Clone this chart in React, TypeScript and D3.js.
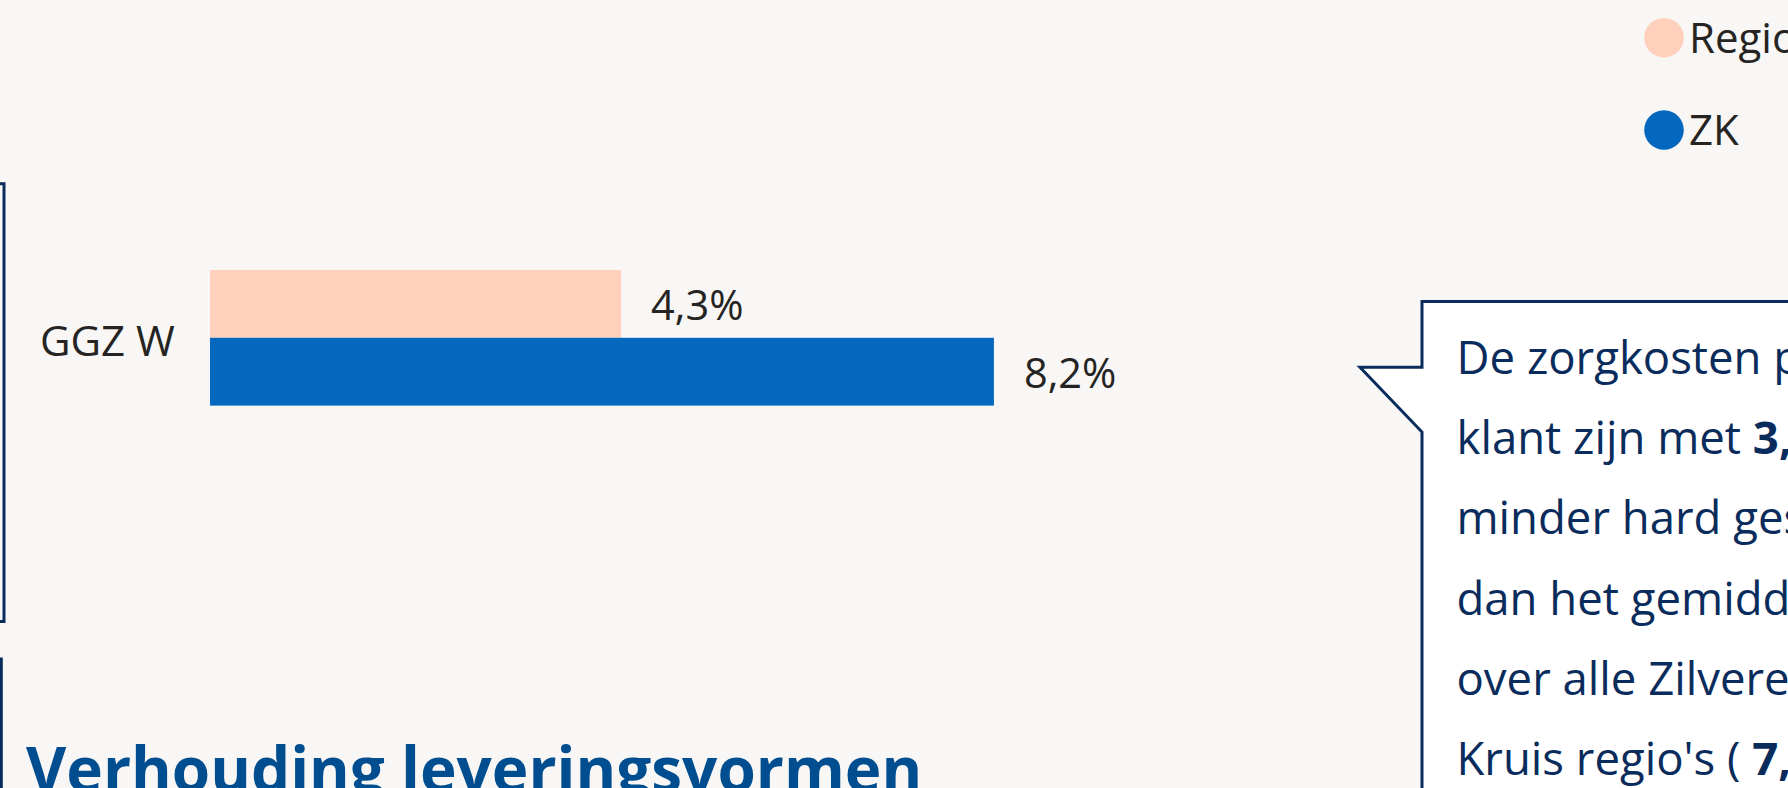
import React from "react";
import * as d3 from "d3";

const categories = ["GGZ W"];
const seriesNames = ["Regio", "ZK"];
const regioValues = [4.3];
const zkValues = [8.2];
const valueLabels = [["4,3%"], ["8,2%"]];
const calloutLines = [
  [{ t: "De zorgkosten per", b: false }],
  [{ t: "klant zijn met ", b: false }, { t: "3,9%", b: true }],
  [{ t: "minder hard gestegen", b: false }],
  [{ t: "dan het gemiddelde", b: false }],
  [{ t: "over alle Zilveren", b: false }],
  [{ t: "Kruis regio's ( ", b: false }, { t: "7,4%", b: true }, { t: " ).", b: false }],
];
const titleText = "Verhouding leveringsvormen";

const W = 1788;
const H = 788;
const BG = "#F8F7F5";
const NAVY = "#0A2C5C";
const PINK = "#FFD0BC";
const BLUE = "#0368BE";
const TEXT = "#252423";
const TITLE = "#004E8F";
const FONT = "'Open Sans', 'Noto Sans', sans-serif";

export default function App() {
  const series = [regioValues, zkValues];
  const colors = [PINK, BLUE];

  const x = d3.scaleLinear().domain([0, 10]).range([210, 1166]);
  const y0 = d3.scaleBand<string>().domain(categories).range([270, 405.6]).padding(0);
  const y1 = d3.scaleBand<string>().domain(seriesNames).range([0, y0.bandwidth()]).padding(0);

  const legendY = d3.scalePoint<string>().domain(seriesNames).range([37.7, 130]);

  const calloutPath = d3.path();
  calloutPath.moveTo(1422, 900);
  calloutPath.lineTo(1422, 432);
  calloutPath.lineTo(1360, 367.3);
  calloutPath.lineTo(1422, 367.3);
  calloutPath.lineTo(1422, 301.5);
  calloutPath.lineTo(1900, 301.5);
  calloutPath.lineTo(1900, 900);
  calloutPath.closePath();

  const lineY = d3.scaleLinear().domain([0, 5]).range([374, 775]);

  return (
    <svg
      width={W}
      height={H}
      viewBox={`0 0 ${W} ${H}`}
      style={{ position: "absolute", left: 0, top: 0, display: "block" }}
      fontFamily={FONT}
    >
      <rect x={0} y={0} width={W} height={H} fill={BG} />

      {/* left panel borders */}
      <rect x={-100} y={183.7} width={104} height={437.8} fill="none" stroke={NAVY} strokeWidth={3} />
      <rect x={-100} y={659} width={101.3} height={300} fill="none" stroke={NAVY} strokeWidth={3} />

      {/* legend */}
      {seriesNames.map((s, i) => (
        <g key={s}>
          <circle cx={1664} cy={legendY(s)} r={19.8} fill={colors[i]} />
          <text x={1689} y={(legendY(s) as number) + 15} fontSize={42} fill={TEXT}>
            {s}
          </text>
        </g>
      ))}

      {/* bars */}
      {categories.map((c, ci) => (
        <g key={c}>
          <text x={40} y={(y0(c) as number) + y0.bandwidth() / 2 + 18} fontSize={42} fill={TEXT}>
            {c}
          </text>
          {seriesNames.map((s, si) => {
            const v = series[si][ci];
            const yy = (y0(c) as number) + (y1(s) as number);
            return (
              <g key={s}>
                <rect x={x(0)} y={yy} width={x(v) - x(0)} height={y1.bandwidth()} fill={colors[si]} />
                <text x={x(v) + 30} y={yy + y1.bandwidth() / 2 + 16} fontSize={41.5} fill={TEXT}>
                  {valueLabels[si][ci]}
                </text>
              </g>
            );
          })}
        </g>
      ))}

      {/* callout */}
      <path d={calloutPath.toString()} fill="#FFFFFF" stroke={NAVY} strokeWidth={3} strokeLinejoin="miter" />
      {calloutLines.map((parts, i) => (
        <text key={i} x={1456.5} y={lineY(i)} fontSize={45.5} fill={NAVY}>
          {parts.map((p, j) => (
            <tspan key={j} fontWeight={p.b ? 700 : 400}>
              {p.t}
            </tspan>
          ))}
        </text>
      ))}

      {/* title */}
      <text x={26} y={792} fontSize={62} fontWeight={700} fill={TITLE}>
        {titleText}
      </text>
    </svg>
  );
}
